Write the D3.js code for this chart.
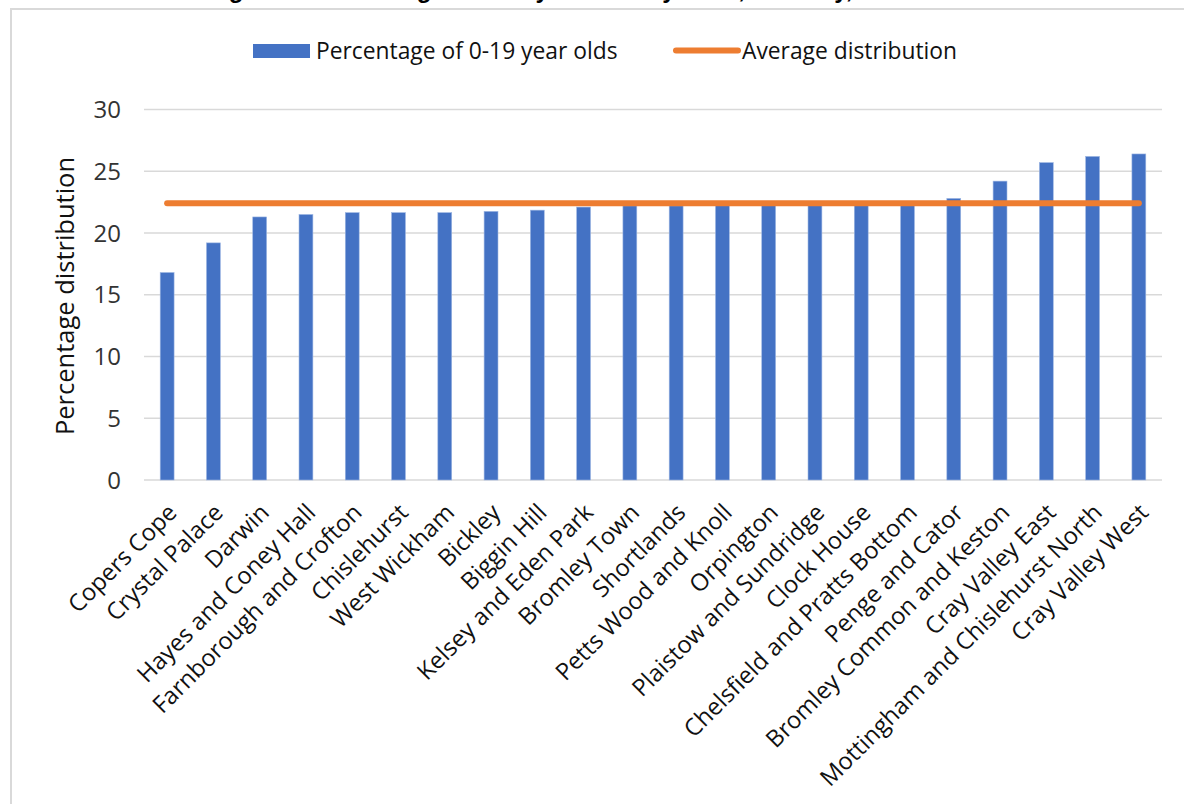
<!DOCTYPE html>
<html>
<head>
<meta charset="utf-8">
<script src="https://cdn.jsdelivr.net/npm/d3@7"></script>
<style>
  body { margin: 0; background: #fff; }
  svg { display: block; font-family: "Open Sans", "Noto Sans", sans-serif; }
</style>
</head>
<body>
<svg id="chart"></svg>
<script>
var width = 1184,
    height = 804;

// ward names, left to right
var wards = ["Copers Cope", "Crystal Palace", "Darwin", "Hayes and Coney Hall",
    "Farnborough and Crofton", "Chislehurst", "West Wickham", "Bickley", "Biggin Hill",
    "Kelsey and Eden Park", "Bromley Town", "Shortlands", "Petts Wood and Knoll",
    "Orpington", "Plaistow and Sundridge", "Clock House", "Chelsfield and Pratts Bottom",
    "Penge and Cator", "Bromley Common and Keston", "Cray Valley East",
    "Mottingham and Chislehurst North", "Cray Valley West"];

var pctYoung = [16.8, 19.2, 21.3, 21.5, 21.65, 21.65, 21.65, 21.75, 21.85,
    22.1, 22.2, 22.2, 22.3, 22.3, 22.4, 22.4, 22.5,
    22.8, 24.2, 25.7, 26.2, 26.4];

var avgDist = [22.4, 22.4, 22.4, 22.4, 22.4, 22.4, 22.4, 22.4, 22.4, 22.4, 22.4,
    22.4, 22.4, 22.4, 22.4, 22.4, 22.4, 22.4, 22.4, 22.4, 22.4, 22.4];

var yTicks = [0, 5, 10, 15, 20, 25, 30];

var seriesNames = ["Percentage of 0-19 year olds", "Average distribution"];

var blue = "#4472c4", orange = "#ed7d31", grid = "#d9d9d9";

var svg = d3.select("#chart")
    .attr("width", width)
    .attr("height", height);

// title of the page above, mostly cut off
svg.append("text")
    .attr("x", 560)
    .attr("y", -2)
    .attr("text-anchor", "middle")
    .style("font-family", "'Liberation Sans', Arial, sans-serif")
    .style("font-weight", "bold")
    .style("font-size", "24px")
    .attr("fill", "#000")
    .text("Figure 4: Percentage of 0-19 year olds by ward, Bromley, 2021");

// chart frame
svg.append("rect")
    .attr("x", 11)
    .attr("y", 9)
    .attr("width", 1200)
    .attr("height", 820)
    .attr("fill", "none")
    .attr("stroke", grid)
    .attr("stroke-width", 2);

var x = d3.scaleBand()
    .domain(wards)
    .range([144, 1162])
    .paddingInner(0.7)
    .paddingOuter(0.35);

var y = d3.scaleLinear()
    .domain([0, 30])
    .range([480, 109.5]);

// gridlines
svg.append("g")
    .selectAll("line")
    .data(yTicks)
    .enter().append("line")
    .attr("x1", 144)
    .attr("x2", 1162)
    .attr("y1", function (d) { return y(d); })
    .attr("y2", function (d) { return y(d); })
    .attr("stroke", grid)
    .attr("stroke-width", 1.5);

// y tick labels
svg.append("g")
    .selectAll("text")
    .data(yTicks)
    .enter().append("text")
    .attr("x", 121)
    .attr("y", function (d) { return y(d) + 8.5; })
    .attr("text-anchor", "end")
    .style("font-size", "24px")
    .attr("fill", "#333")
    .text(function (d) { return d; });

// y axis title
svg.append("text")
    .attr("transform", "translate(74,296) rotate(-90)")
    .attr("text-anchor", "middle")
    .style("font-size", "25.5px")
    .attr("fill", "#111")
    .text("Percentage distribution");

// bars
svg.append("g")
    .selectAll("rect")
    .data(pctYoung)
    .enter().append("rect")
    .attr("x", function (d, i) { return x(wards[i]); })
    .attr("y", function (d) { return y(d); })
    .attr("width", x.bandwidth())
    .attr("height", function (d) { return y(0) - y(d); })
    .attr("fill", blue)
    .attr("stroke", "#9db6e3")
    .attr("stroke-width", 0.6);

// average line
var line = d3.line()
    .x(function (d, i) { return x(wards[i]) + x.bandwidth() / 2; })
    .y(function (d) { return y(d); });

svg.append("path")
    .datum(avgDist)
    .attr("d", line)
    .attr("fill", "none")
    .attr("stroke", orange)
    .attr("stroke-width", 6)
    .attr("stroke-linecap", "round");

// x labels
svg.append("g")
    .selectAll("text")
    .data(wards)
    .enter().append("text")
    .attr("transform", function (d) {
        return "translate(" + (x(d) + x.bandwidth() / 2 + 11) + ",514) rotate(-45)";
    })
    .attr("text-anchor", "end")
    .style("font-size", "23.8px")
    .attr("fill", "#111")
    .text(function (d) { return d; });

// legend
var legend = svg.append("g");
legend.append("rect")
    .attr("x", 253)
    .attr("y", 44)
    .attr("width", 57)
    .attr("height", 14)
    .attr("fill", blue);
legend.append("text")
    .attr("x", 316)
    .attr("y", 58.5)
    .style("font-size", "22.8px")
    .attr("fill", "#111")
    .text(seriesNames[0]);
legend.append("line")
    .attr("x1", 676)
    .attr("x2", 738)
    .attr("y1", 50.5)
    .attr("y2", 50.5)
    .attr("stroke", orange)
    .attr("stroke-width", 6)
    .attr("stroke-linecap", "round");
legend.append("text")
    .attr("x", 742)
    .attr("y", 58.5)
    .style("font-size", "22.8px")
    .attr("fill", "#111")
    .text(seriesNames[1]);
</script>
</body>
</html>
